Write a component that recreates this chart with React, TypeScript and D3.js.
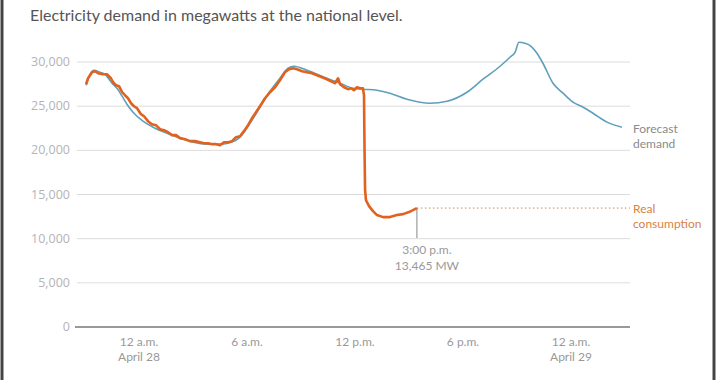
import React from "react";
import * as d3 from "d3";

const title = "Electricity demand in megawatts at the national level.";

const yTicks = [0, 5000, 10000, 15000, 20000, 25000, 30000];
const xTickHours = [0, 6, 12, 18, 24];
const xTickLabels = [["12 a.m.", "April 28"], ["6 a.m."], ["12 p.m."], ["6 p.m."], ["12 a.m.", "April 29"]];

// hours relative to 12 a.m. April 28
const forecastHours = [-2.94, -2.72, -2.5, -2.17, -1.89, -1.5, -1.22, -0.94, -0.67, -0.33, 0.22, 0.78, 1.56, 2.28, 3.0, 3.78, 4.5, 4.94, 5.61, 6.17, 6.72, 7.28, 7.83, 8.28, 8.61, 9.33, 10.44, 11.17, 11.89, 12.44, 13.22, 13.94, 14.89, 16.17, 17.11, 18.22, 19.11, 20.06, 20.61, 20.89, 21.11, 21.44, 21.78, 22.11, 22.44, 23.0, 23.56, 24.11, 24.67, 25.22, 26.0, 26.83];
const forecastMW = [27370, 28610, 29070, 28840, 28610, 27600, 27030, 26130, 25220, 24320, 23300, 22620, 21940, 21380, 20920, 20700, 20700, 20810, 21490, 23070, 24880, 26690, 28160, 29290, 29520, 29070, 28160, 27600, 27030, 26920, 26800, 26470, 25790, 25330, 25560, 26580, 28050, 29520, 30540, 31100, 32230, 32120, 31780, 30990, 29860, 27600, 26470, 25450, 24880, 24200, 23190, 22620];

const realHours = [-2.94, -2.83, -2.61, -2.44, -2.28, -2.0, -1.78, -1.56, -1.44, -1.28, -1.11, -0.94, -0.78, -0.61, -0.44, -0.28, -0.11, 0.11, 0.28, 0.5, 0.72, 0.94, 1.17, 1.39, 1.61, 1.83, 2.06, 2.28, 2.56, 2.83, 3.11, 3.39, 3.61, 3.83, 4.06, 4.28, 4.5, 4.72, 4.94, 5.17, 5.39, 5.61, 5.83, 6.06, 6.28, 6.5, 6.72, 7.0, 7.28, 7.56, 7.83, 8.11, 8.33, 8.56, 8.78, 9.06, 9.33, 9.61, 9.89, 10.17, 10.44, 10.67, 10.89, 11.06, 11.17, 11.39, 11.61, 11.78, 11.94, 12.11, 12.28, 12.44, 12.5, 12.53, 12.56, 12.61, 12.78, 13.0, 13.22, 13.56, 13.94, 14.33, 14.67, 15.0, 15.22, 15.44];
const realMW = [27480, 28160, 28840, 28950, 28730, 28610, 28610, 28160, 27710, 27370, 27260, 26580, 26240, 25900, 25330, 24990, 24770, 24090, 23860, 23300, 22960, 22850, 22390, 22280, 22050, 21720, 21720, 21380, 21260, 21040, 21040, 20920, 20810, 20810, 20700, 20700, 20580, 20920, 20920, 21040, 21490, 21600, 22170, 22850, 23640, 24320, 25000, 25900, 26580, 27140, 27940, 28840, 29180, 29290, 29180, 28950, 28840, 28730, 28500, 28280, 28050, 27820, 27600, 28160, 27480, 27140, 26920, 27030, 26800, 27140, 27030, 27030, 26240, 20020, 15490, 14360, 13690, 13120, 12670, 12440, 12440, 12670, 12780, 13010, 13230, 13465];

const markerTime = "3:00 p.m.";
const markerValue = "13,465 MW";

const FONT = "Lato, 'Open Sans', sans-serif";

export default function App() {
  const x = d3.scaleLinear().domain([0, 24]).range([139, 571]);
  const y = d3.scaleLinear().domain([0, 30000]).range([327, 62]);
  const gridX0 = 77;
  const gridX1 = 630;

  const forecast = forecastHours.map((h, i) => [h, forecastMW[i]] as [number, number]);
  const real = realHours.map((h, i) => [h, realMW[i]] as [number, number]);

  const fLine = d3.line<[number, number]>().x(d => x(d[0])).y(d => y(d[1])).curve(d3.curveMonotoneX);
  const rLine = d3.line<[number, number]>().x(d => x(d[0])).y(d => y(d[1])).curve(d3.curveLinear);

  const last = real[real.length - 1];
  const mx = x(last[0]);
  const my = y(last[1]);
  const fLast = forecast[forecast.length - 1];

  return (
    <svg width={720} height={380} style={{ position: "absolute", left: 0, top: 0, background: "#fff" }} fontFamily={FONT}>
      <rect x={0} y={0} width={720} height={380} fill="#fff" />
      <line x1={2} x2={2} y1={0} y2={380} stroke="#444" strokeWidth={3} />
      <line x1={714} x2={714} y1={0} y2={380} stroke="#444" strokeWidth={3} />
      <text x={30} y={21} fontSize={16} fill="#555">{title}</text>

      {yTicks.map(t => (
        <g key={t}>
          {t > 0 && <line x1={gridX0} x2={gridX1} y1={y(t)} y2={y(t)} stroke="#dcdcdc" strokeWidth={1} />}
          <text x={70} y={y(t) + 4} fontSize={12.5} fontFamily="'Open Sans', sans-serif" fill="#b4b4b4" textAnchor="end">{d3.format(",")(t)}</text>
        </g>
      ))}
      <line x1={75} x2={gridX1} y1={y(0)} y2={y(0)} stroke="#777" strokeWidth={1.5} />

      {xTickHours.map((h, i) => (
        <text key={h} x={x(h)} y={346} fontSize={12} fill="#999" textAnchor="middle">
          {xTickLabels[i].map((s, j) => (
            <tspan key={j} x={x(h)} dy={j === 0 ? 0 : 15}>{s}</tspan>
          ))}
        </text>
      ))}

      <path d={fLine(forecast) || ""} fill="none" stroke="#5f9fbb" strokeWidth={1.6} />
      <line x1={mx} x2={gridX1} y1={my} y2={my} stroke="#d9824a" strokeWidth={1} strokeDasharray="1.5,2.5" />
      <line x1={mx} x2={mx} y1={my} y2={my + 30} stroke="#888" strokeWidth={1} />
      <path d={rLine(real) || ""} fill="none" stroke="#e0621e" strokeWidth={2.6} strokeLinejoin="round" />

      <text x={mx + 10} y={254} fontSize={12} fill="#999" textAnchor="middle">{markerTime}</text>
      <text x={mx + 10} y={270} fontSize={12} fill="#999" textAnchor="middle">{markerValue}</text>

      <text x={633} y={y(fLast[1]) + 6} fontSize={12} fill="#8a8a8a">
        <tspan x={633}>Forecast</tspan>
        <tspan x={633} dy={15}>demand</tspan>
      </text>
      <text x={633} y={my + 5} fontSize={12} fill="#d8823f">
        <tspan x={633}>Real</tspan>
        <tspan x={633} dy={15}>consumption</tspan>
      </text>
    </svg>
  );
}
